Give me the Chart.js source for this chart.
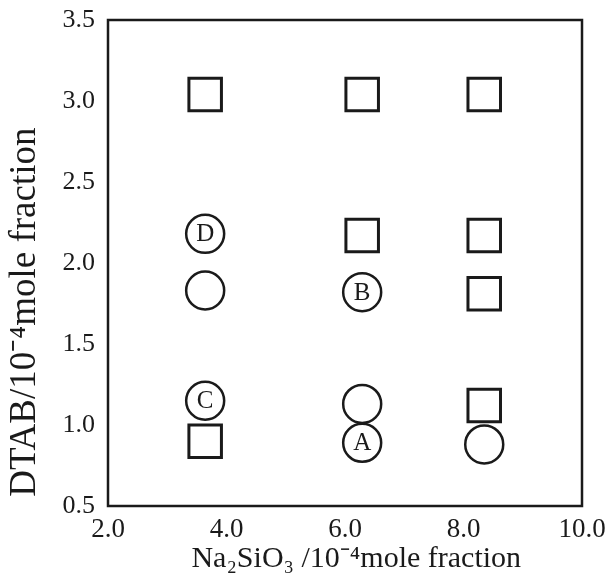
<!DOCTYPE html>
<html>
<head>
<meta charset="utf-8">
<script src="https://cdn.jsdelivr.net/npm/chart.js@4/dist/chart.umd.min.js"></script>
<style>
  html, body { margin: 0; padding: 0; background: #ffffff; }
  #wrap { width: 612px; height: 583px; }
</style>
</head>
<body>
<div id="wrap"><canvas id="c" width="612" height="583"></canvas></div>
<script>
// ---- data ----
const squareX = [3.64, 6.29, 8.35, 6.29, 8.35, 8.35, 8.35, 3.64];
const squareY = [3.04, 3.04, 3.04, 2.17, 2.17, 1.81, 1.12, 0.90];
const circleX = [3.64, 3.64, 6.29, 3.64, 6.29, 6.29, 8.35];
const circleY = [2.18, 1.83, 1.82, 1.15, 1.13, 0.89, 0.88];
const circleLabels = ['D', '', 'B', 'C', '', 'A', ''];
const xTickValues = [2.0, 4.0, 6.0, 8.0, 10.0];
const yTickValues = [0.5, 1.0, 1.5, 2.0, 2.5, 3.0, 3.5];
const xTitle = '   Na\u2082SiO\u2083 /10\u207B\u2074mole fraction';
const yTitle = ' DTAB/10\u207B\u2074mole fraction';

const ink = '#1a1a1a';
const serif = '"Liberation Serif", "Times New Roman", serif';

const toPoints = (xs, ys) => xs.map((x, i) => ({ x: x, y: ys[i] }));

const frame = {
  id: 'frame',
  afterDatasetsDraw(chart) {
    const a = chart.chartArea, ctx = chart.ctx;
    ctx.save();
    ctx.strokeStyle = ink;
    ctx.lineWidth = 2.5;
    ctx.strokeRect(a.left, a.top, a.right - a.left, a.bottom - a.top);
    ctx.restore();
  }
};

const letters = {
  id: 'letters',
  afterDatasetsDraw(chart) {
    const ctx = chart.ctx;
    const meta = chart.getDatasetMeta(1);
    ctx.save();
    ctx.fillStyle = ink;
    ctx.font = '25px ' + serif;
    ctx.textAlign = 'center';
    ctx.textBaseline = 'middle';
    meta.data.forEach((el, i) => {
      const t = circleLabels[i];
      if (t) ctx.fillText(t, el.x, el.y + 1);
    });
    ctx.restore();
  }
};

new Chart(document.getElementById('c'), {
  type: 'scatter',
  data: {
    datasets: [
      {
        label: 'square',
        data: toPoints(squareX, squareY),
        pointStyle: 'rect',
        pointRadius: 23,
        pointHoverRadius: 23,
        pointBorderWidth: 3,
        pointBackgroundColor: 'rgba(0,0,0,0)',
        pointBorderColor: ink,
        clip: false
      },
      {
        label: 'circle',
        data: toPoints(circleX, circleY),
        pointStyle: 'circle',
        pointRadius: 19,
        pointHoverRadius: 19,
        pointBorderWidth: 2.5,
        pointBackgroundColor: 'rgba(0,0,0,0)',
        pointBorderColor: ink,
        clip: false
      }
    ]
  },
  options: {
    responsive: false,
    animation: false,
    devicePixelRatio: 1,
    layout: { autoPadding: false, padding: { top: 20, right: 30, left: 0, bottom: 0 } },
    plugins: {
      legend: { display: false },
      tooltip: { enabled: false }
    },
    scales: {
      x: {
        type: 'linear',
        min: 2, max: 10,
        afterBuildTicks: (s) => { s.ticks = xTickValues.map(v => ({ value: v })); },
        afterFit: (s) => { s.height = 77; s.paddingLeft = 0; s.paddingRight = 0; },
        grid: { display: false, drawTicks: false },
        border: { display: false },
        ticks: {
          padding: 8,
          color: ink,
          font: { family: serif, size: 27 },
          callback: (v) => Number(v).toFixed(1)
        },
        title: {
          display: true,
          text: xTitle,
          color: ink,
          font: { family: serif, size: 30 },
          padding: { top: 0, bottom: 6 }
        }
      },
      y: {
        type: 'linear',
        min: 0.5, max: 3.5,
        afterBuildTicks: (s) => { s.ticks = yTickValues.map(v => ({ value: v })); },
        afterFit: (s) => { s.width = 108; s.paddingTop = 0; s.paddingBottom = 0; },
        grid: { display: false, drawTicks: false },
        border: { display: false },
        ticks: {
          padding: 13,
          color: ink,
          font: { family: serif, size: 26 },
          callback: (v) => Number(v).toFixed(1)
        },
        title: {
          display: true,
          text: yTitle,
          align: 'start',
          color: ink,
          font: { family: serif, size: 37 },
          padding: { top: 3, bottom: 0 }
        }
      }
    }
  },
  plugins: [frame, letters]
});
</script>
</body>
</html>
